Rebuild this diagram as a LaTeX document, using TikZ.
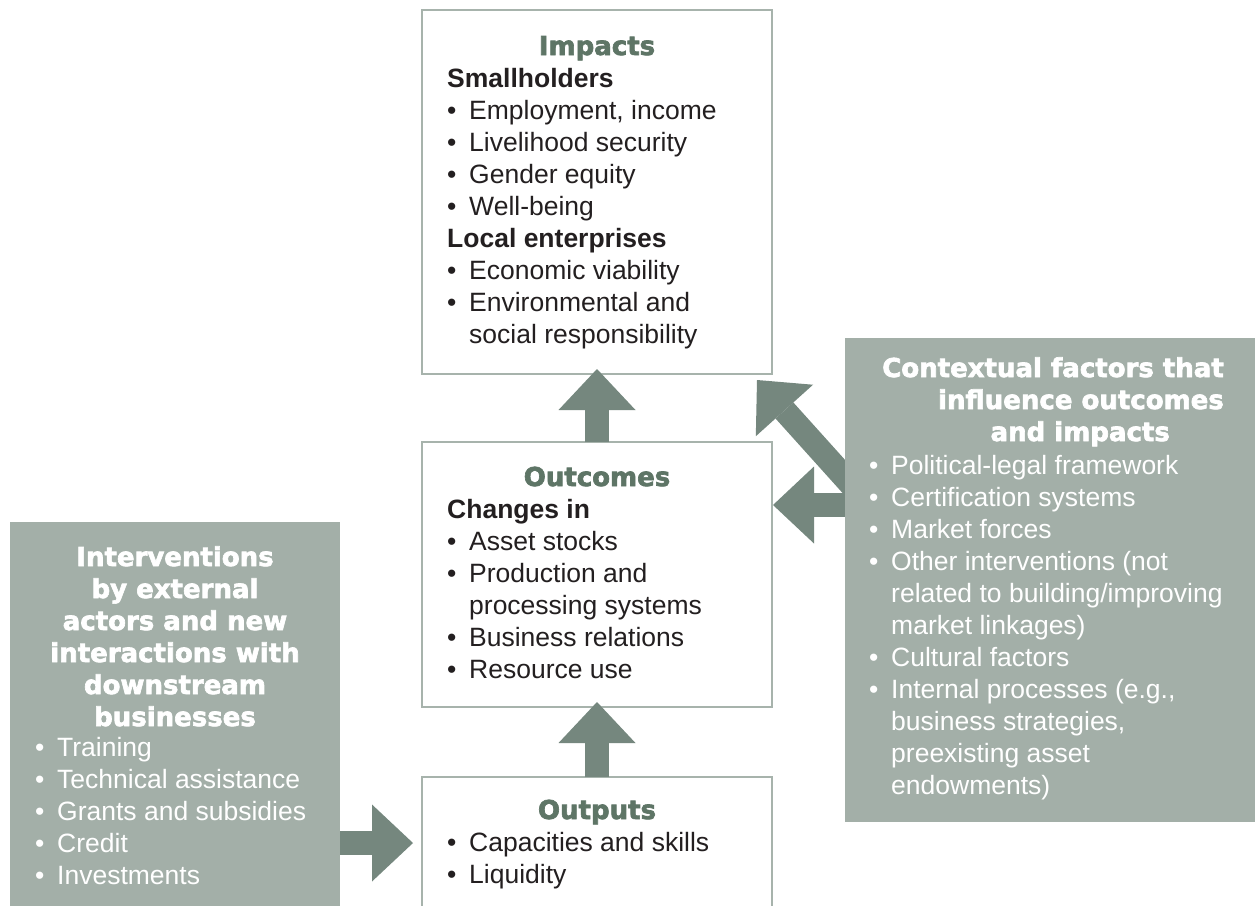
\documentclass[tikz,border=0pt]{standalone}
\usepackage{fontspec}
\setmainfont{Liberation Sans}
\newfontfamily\headfont{DejaVu Sans}[BoldFeatures={FakeBold=2.5}]
\usetikzlibrary{arrows.meta}
\definecolor{boxgray}{HTML}{A3AFA8}
\definecolor{framegray}{HTML}{A7B3AC}
\definecolor{arrowgray}{HTML}{75877E}
\definecolor{headgreen}{HTML}{5E7566}
\definecolor{ink}{HTML}{231F20}
\pgfdeclarelayer{bg}
\pgfsetlayers{bg,main}
\newcommand\itm{\makebox[22pt][l]{•}}
\newcommand\cont{\hspace*{22pt}}
\begin{document}
\begin{tikzpicture}[x=1pt,y=-1pt,
	wbox/.style={draw=framegray,line width=2.5pt,fill=white,inner sep=0pt,outer sep=0pt,anchor=north west},
	gbox/.style={fill=boxgray,inner sep=0pt,outer sep=0pt,anchor=north west},
	head/.style={font=\headfont\bfseries\fontsize{26}{32}\selectfont,inner sep=0pt,align=center,anchor=base},
	body/.style={font=\fontsize{26.5}{32}\selectfont,inner sep=0pt,align=left,anchor=base west,text=ink},
	fat/.style={line width=24pt,draw=arrowgray,-{Triangle[length=41pt,width=77pt,line width=0pt]}}]
	\useasboundingbox (0,0) rectangle (1255,905);
	\node[gbox,minimum width=330pt,minimum height=400pt] (inter) at (10,522) {};
	\node[gbox,minimum width=420pt,minimum height=484pt] (context) at (845,338) {};
	\begin{pgfonlayer}{bg}
		\fill[white] (0,0) rectangle (1255,905);
		\node[wbox,minimum width=350pt,minimum height=364pt] (impacts) at (422,10) {};
		\node[wbox,minimum width=350pt,minimum height=265pt] (outcomes) at (422,442) {};
		\node[wbox,minimum width=350pt,minimum height=200pt] (outputs) at (422,777) {};
		\coordinate (ylow) at (0,843);
		\coordinate (ymid) at (0,505);
		\coordinate (diag) at (865,500);
		\draw[fat,shorten >=-5pt] (outcomes.north) -- (impacts.south);
		\draw[fat,shorten >=-5pt] (outputs.north) -- (outcomes.south);
		\draw[fat,shorten >=9pt] (inter.east |- ylow) -- (outputs.west |- ylow);
		\draw[fat,shorten >=1pt] (context.west |- ymid) -- (outcomes.east |- ymid);
		\draw[fat] (diag) -- ([shift={(-15,6)}]impacts.south east);
	\end{pgfonlayer}
	% multi-line nodes sit on the baseline of their last line
	\node[head,text=headgreen] (impactshd) at (597,55) {Impacts};
	\node[body] (impactstx) at (447,343) {\textbf{Smallholders}\\\itm Employment, income\\\itm Livelihood security\\\itm Gender equity\\\itm Well-being\\\textbf{Local enterprises}\\\itm Economic viability\\\itm Environmental and\\\cont social responsibility};
	\node[head,text=headgreen] (outcomeshd) at (597,486) {Outcomes};
	\node[body] (outcomestx) at (447,678) {\textbf{Changes in}\\\itm Asset stocks\\\itm Production and\\\cont processing systems\\\itm Business relations\\\itm Resource use};
	\node[head,text=headgreen] (outputshd) at (597,819) {Outputs};
	\node[body] (outputstx) at (447,883) {\itm Capacities and skills\\\itm Liquidity};
	\node[head,text=white] (interhd) at (175,726) {Interventions\\by external\\actors and new\\interactions with\\downstream\\businesses};
	\node[body,text=white] (intertx) at (35,884) {\itm Training\\\itm Technical assistance\\\itm Grants and subsidies\\\itm Credit\\\itm Investments};
	\node[head,text=white,align=right,anchor=base east] (contexthd) at (1224,441) {Contextual factors that\\influence outcomes\\and impacts\hspace*{54pt}};
	\node[body,text=white] (contexttx) at (869,794) {\itm Political-legal framework\\\itm Certification systems\\\itm Market forces\\\itm Other interventions (not\\\cont related to building/improving\\\cont market linkages)\\\itm Cultural factors\\\itm Internal processes (e.g.,\\\cont business strategies,\\\cont preexisting asset\\\cont endowments)};
\end{tikzpicture}
\end{document}
